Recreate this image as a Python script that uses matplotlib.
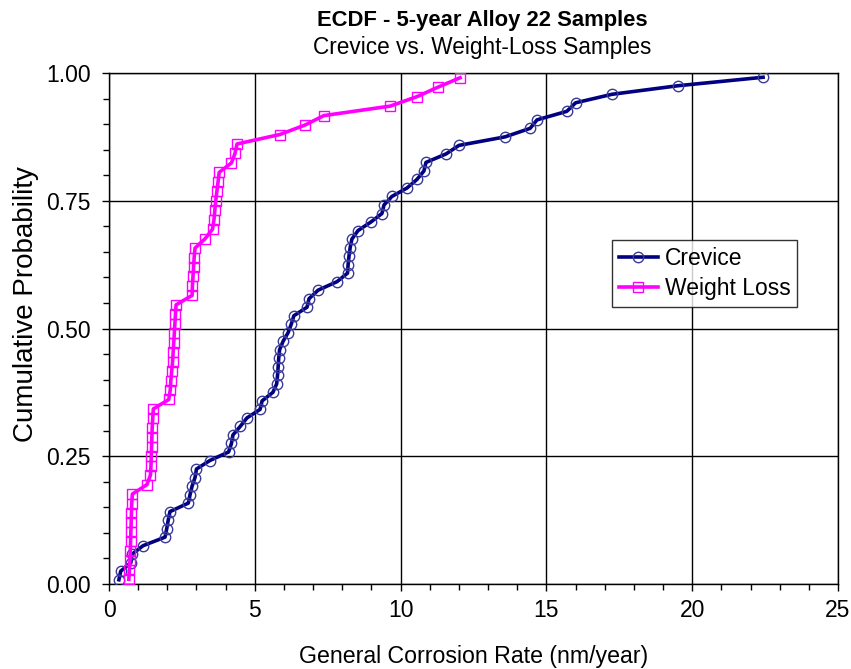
import numpy as np
import matplotlib
matplotlib.use("Agg")
import matplotlib.pyplot as plt
from matplotlib.ticker import MultipleLocator, FormatStrFormatter

# Sorted general corrosion rates (nm/year) for each sample group
crevice_rates = [
    0.34, 0.40, 0.75, 0.79, 1.17, 1.92, 1.98, 2.03, 2.09, 2.72,
    2.78, 2.85, 2.95, 3.00, 3.46, 4.10, 4.20, 4.25, 4.50, 4.73,
    5.18, 5.25, 5.62, 5.75, 5.78, 5.80, 5.82, 5.85, 5.97, 6.14,
    6.25, 6.34, 6.79, 6.86, 7.17, 7.82, 8.18, 8.20, 8.23, 8.27,
    8.33, 8.54, 8.98, 9.36, 9.43, 9.70, 10.22, 10.56, 10.80, 10.87,
    11.56, 12.00, 13.58, 14.44, 14.68, 15.70, 16.00, 17.25, 19.50, 22.43,
]
weight_loss_rates = [
    0.68, 0.70, 0.72, 0.73, 0.74, 0.75, 0.76, 0.77, 0.78, 0.80,
    1.30, 1.42, 1.44, 1.45, 1.46, 1.47, 1.48, 1.50, 1.52, 2.05,
    2.10, 2.12, 2.15, 2.18, 2.20, 2.22, 2.24, 2.26, 2.28, 2.30,
    2.85, 2.86, 2.88, 2.90, 2.92, 2.95, 3.30, 3.55, 3.60, 3.63,
    3.66, 3.70, 3.74, 3.78, 4.20, 4.32, 4.39, 5.86, 6.72, 7.37,
    9.64, 10.56, 11.28, 12.04,
]

series_labels = ["Crevice", "Weight Loss"]
title_text = "ECDF - 5-year Alloy 22 Samples"
subtitle_text = "Crevice vs. Weight-Loss Samples"
x_label = "General Corrosion Rate (nm/year)"
y_label = "Cumulative Probability"


def ecdf(values):
    x = np.sort(np.asarray(values, dtype=float))
    n = len(x)
    y = (np.arange(1, n + 1) - 0.5) / n
    return x, y


plt.rcParams["font.family"] = ["Liberation Sans", "DejaVu Sans"]

fig = plt.figure(figsize=(8.51, 6.69), dpi=100)
ax = fig.add_axes([109 / 851, 85 / 669, 729 / 851, 511 / 669])

xc, yc = ecdf(crevice_rates)
xw, yw = ecdf(weight_loss_rates)

ax.plot(xc, yc, color="#000080", lw=2.6, marker="o", ms=7.5,
        mfc="none", mec="#3a3a9a", mew=1.0, label=series_labels[0], zorder=3)
ax.plot(xw, yw, color="#ff00ff", lw=2.6, marker="s", ms=7,
        mfc="none", mec="#ff00ff", mew=1.0, label=series_labels[1], zorder=3)

ax.set_xlim(0, 25)
ax.set_ylim(0, 1)
ax.xaxis.set_major_locator(MultipleLocator(5))
ax.xaxis.set_minor_locator(MultipleLocator(1))
ax.yaxis.set_major_locator(MultipleLocator(0.25))
ax.yaxis.set_minor_locator(MultipleLocator(0.05))
ax.yaxis.set_major_formatter(FormatStrFormatter("%.2f"))

ax.grid(True, which="major", color="black", lw=1.0)
ax.set_axisbelow(True)
for s in ax.spines.values():
    s.set_color("black")
    s.set_linewidth(1.0)

ax.tick_params(which="both", direction="out", color="black", labelsize=16.5)
ax.tick_params(which="major", length=5, width=1)
ax.tick_params(which="minor", length=4, width=1)
ax.tick_params(axis="x", pad=6)
ax.tick_params(axis="y", pad=8)

ax.set_xlabel(x_label, fontsize=16.7, labelpad=16)
ax.set_ylabel(y_label, fontsize=20)
ax.yaxis.set_label_coords(-(109 - 39) / 729, (584 - 304) / 511)

fig.text(0.567, 0.970, title_text, ha="center", va="center",
         fontsize=15.8, fontweight="bold")
fig.text(0.567, 0.929, subtitle_text, ha="center", va="center", fontsize=16.3)

leg = ax.legend(loc="upper left", bbox_to_anchor=(503 / 729, (584 - 240) / 511),
                frameon=True, fancybox=False, edgecolor="black", fontsize=16.5,
                handlelength=1.7, handletextpad=0.3, borderpad=0.3,
                labelspacing=0.3, borderaxespad=0.0)
leg.get_frame().set_linewidth(1.0)

fig.savefig("out.png", dpi=100)
